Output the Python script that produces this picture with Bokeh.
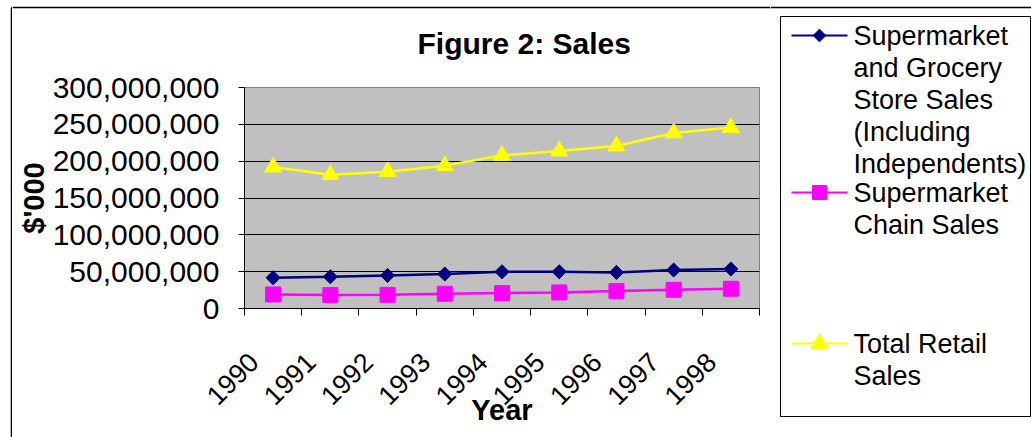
import math
from bokeh.plotting import figure
from bokeh.models import (Range1d, FixedTicker, NumeralTickFormatter, ColumnDataSource)
from bokeh.layouts import row, column
from bokeh.embed import file_html
from bokeh.resources import INLINE
from bokeh.core.properties import value

# ---------------- data ----------------
years = ["1990", "1991", "1992", "1993", "1994", "1995", "1996", "1997", "1998"]
grocery_sales = [41_800_000, 43_100_000, 44_900_000, 46_800_000, 49_900_000,
                 49_900_000, 49_000_000, 52_200_000, 53_600_000]
chain_sales = [19_100_000, 18_200_000, 18_600_000, 20_000_000, 20_900_000,
               21_800_000, 23_600_000, 25_400_000, 26_800_000]
total_retail = [192_000_000, 181_600_000, 185_700_000, 193_800_000, 207_900_000,
                213_800_000, 220_600_000, 238_300_000, 245_600_000]
y_ticks = [0, 50_000_000, 100_000_000, 150_000_000, 200_000_000, 250_000_000, 300_000_000]
series_labels = ["Supermarket\nand Grocery\nStore Sales\n(Including\nIndependents)",
                 "Supermarket\nChain Sales",
                 "Total Retail\nSales"]
title_text = "Figure 2: Sales"
x_title = "Year"
y_title = "$'000"

FONT = "Liberation Sans"
NAVY, MAGENTA, YELLOW = "#000080", "#FF00FF", "#FFFF00"

# page geometry (pixels)
PAGE_W, PAGE_H = 1031, 437
TOP_H = 68         # strip holding the outer top edge and the title
LEFT_W = 12        # strip holding the outer left edge
SPLIT_X = 770      # where the legend panel begins
FRAME_L, FRAME_R, FRAME_T, FRAME_B = 244, 759, 87, 308
BORDER_Y, BORDER_X = 7, 11


def blank(width, height, x0, x1, y0, y1):
    return figure(width=width, height=height, output_backend="svg",
                  toolbar_location=None, x_range=Range1d(x0, x1),
                  y_range=Range1d(y1, y0), x_axis_type=None, y_axis_type=None,
                  min_border=0, outline_line_color=None,
                  background_fill_color="white", border_fill_color="white",
                  frame_align=False)


# ---------------- outer border strips + title ----------------
left = blank(LEFT_W, PAGE_H, 0, LEFT_W, 0, PAGE_H)
left.segment(x0=BORDER_X, y0=BORDER_Y, x1=BORDER_X, y1=PAGE_H, line_color="black", line_width=1.5)
left.segment(x0=BORDER_X, y0=BORDER_Y, x1=LEFT_W, y1=BORDER_Y, line_color="black", line_width=1.5)

top = blank(SPLIT_X - LEFT_W, TOP_H, LEFT_W, SPLIT_X, 0, TOP_H)
top.segment(x0=LEFT_W, y0=BORDER_Y, x1=SPLIT_X, y1=BORDER_Y, line_color="black", line_width=1.5)
top.text(x=[417], y=[42.5], text=[title_text], text_font=value(FONT), text_font_size="30px",
         text_font_style="bold", text_baseline="middle", text_align="left",
         text_color="black")

# ---------------- main chart ----------------
n = len(years)
x_centers = [i + 0.5 for i in range(n)]
label_pos = [i + 0.16 for i in range(n)]

W_A = SPLIT_X - LEFT_W
p = figure(width=W_A, height=PAGE_H - TOP_H, output_backend="svg", toolbar_location=None,
           x_range=Range1d(0, n), y_range=Range1d(y_ticks[0], y_ticks[-1]),
           min_border_left=FRAME_L - LEFT_W, min_border_right=SPLIT_X - FRAME_R,
           min_border_top=FRAME_T - TOP_H, min_border_bottom=PAGE_H - FRAME_B,
           background_fill_color="#C0C0C0", border_fill_color="white",
           outline_line_color="#808080", frame_align=False)

src = ColumnDataSource(dict(x=x_centers, g=grocery_sales, c=chain_sales, t=total_retail))
p.line("x", "g", source=src, line_color=NAVY, line_width=2.5)
p.scatter("x", "g", source=src, marker="square", angle=math.pi / 4, size=10,
          fill_color=NAVY, line_color=NAVY)
p.line("x", "c", source=src, line_color=MAGENTA, line_width=2.5)
p.scatter("x", "c", source=src, marker="square", size=15,
          fill_color=MAGENTA, line_color=MAGENTA)
p.line("x", "t", source=src, line_color=YELLOW, line_width=2.5)
p.scatter("x", "t", source=src, marker="triangle", size=17,
          fill_color=YELLOW, line_color=YELLOW)

# x axis
xa = p.xaxis[0]
xa.ticker = FixedTicker(ticks=label_pos, minor_ticks=list(range(n + 1)))
xa.major_label_overrides = {pos: yr for pos, yr in zip(label_pos, years)}
xa.major_label_orientation = math.pi / 4
xa.major_tick_out = 0
xa.major_tick_in = 0
xa.minor_tick_out = 7
xa.minor_tick_in = 0
xa.minor_tick_line_color = "black"
xa.major_label_standoff = 42
xa.major_label_text_font = FONT
xa.major_label_text_font_size = "27px"
xa.major_label_text_color = "black"
xa.axis_line_color = "black"
xa.axis_label = x_title
xa.axis_label_text_font = FONT
xa.axis_label_text_font_size = "29px"
xa.axis_label_text_font_style = "bold"
xa.axis_label_text_color = "black"
xa.axis_label_standoff = -22

# y axis
ya = p.yaxis[0]
ya.ticker = FixedTicker(ticks=y_ticks)
ya.formatter = NumeralTickFormatter(format="0,0")
ya.major_tick_out = 6
ya.major_tick_in = 0
ya.minor_tick_line_color = None
ya.major_label_standoff = 19
ya.major_label_text_font = FONT
ya.major_label_text_font_size = "30px"
ya.major_label_text_color = "black"
ya.axis_line_color = "black"
ya.axis_label = y_title
ya.axis_label_text_font = FONT
ya.axis_label_text_font_size = "29px"
ya.axis_label_text_font_style = "bold"
ya.axis_label_text_color = "black"
ya.axis_label_standoff = 0

p.xgrid.grid_line_color = None
p.ygrid.grid_line_color = "black"
p.ygrid.grid_line_width = 1

# ---------------- legend panel ----------------
q = blank(PAGE_W - SPLIT_X, PAGE_H, SPLIT_X, PAGE_W, 0, PAGE_H)
q.segment(x0=SPLIT_X, y0=BORDER_Y, x1=PAGE_W, y1=BORDER_Y, line_color="black", line_width=1.5)
q.quad(left=780, right=1030, top=16, bottom=416, fill_color="white",
       line_color="black", line_width=1)

entry_y = [35, 192, 343]
line_step = 32
colors = [NAVY, MAGENTA, YELLOW]
markers = [("square", math.pi / 4, 9), ("square", 0, 14), ("triangle", 0, 17)]
for lab, yy, col, (mk, ang, sz) in zip(series_labels, entry_y, colors, markers):
    q.segment(x0=791, y0=yy, x1=847, y1=yy, line_color=col, line_width=2)
    q.scatter(x=[819], y=[yy], marker=mk, angle=ang, size=sz, fill_color=col, line_color=col)
    lines = lab.split("\n")
    q.text(x=[853] * len(lines), y=[yy + k * line_step for k in range(len(lines))],
           text=lines, text_font=value(FONT), text_font_size="27px",
           text_baseline="middle", text_align="left", text_color="black")

layout = row(left, column(top, p), q)
open("out.html", "w").write(file_html(layout, INLINE))
